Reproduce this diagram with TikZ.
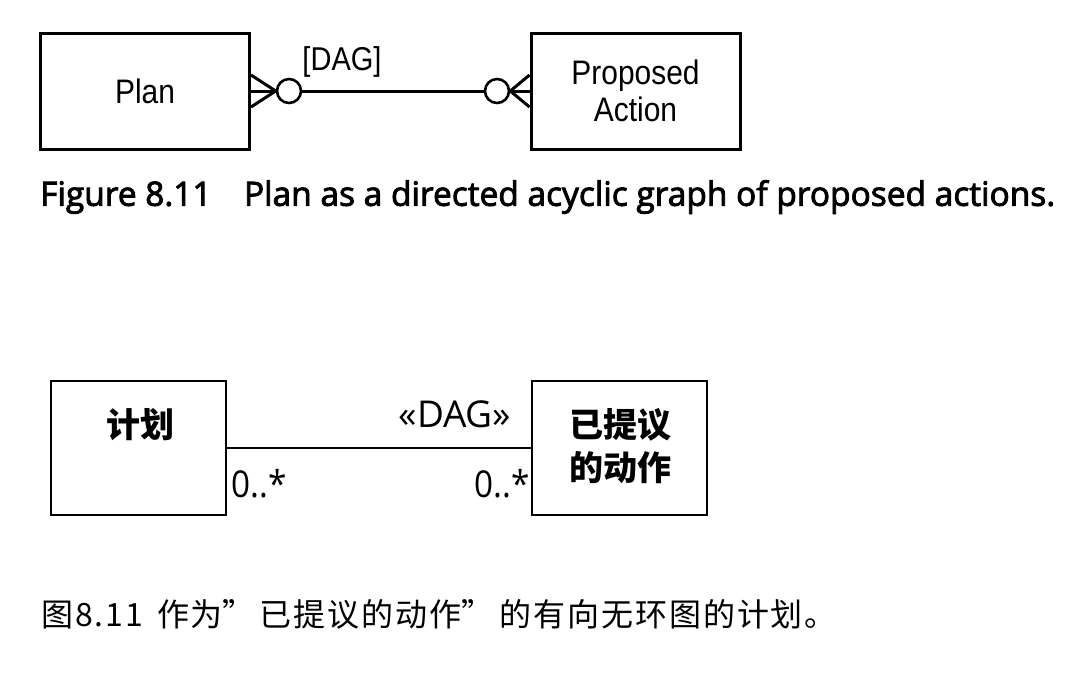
\documentclass[tikz,border=0pt]{standalone}
\usepackage{fontspec}
\setmainfont{Liberation Sans}
\newfontfamily\cjk{Noto Sans CJK SC}
\newfontfamily\cjkcap{Noto Sans CJK SC}[LetterSpace=6]
\newfontfamily\umlfont{Open Sans}
\newfontfamily\capfont{Open Sans}[FakeBold=2.6]
\newcommand{\narrowtext}[1]{\scalebox{0.88}[1]{#1}}
\newcommand{\fwq}[1]{\makebox[#1][l]{”}}
\begin{document}
\begin{tikzpicture}[x=1pt,y=-1pt,
  topbox/.style={draw, line width=3pt, minimum width=209pt, minimum height=116pt, inner sep=0pt, align=center, font=\fontsize{34}{37}\selectfont},
  botbox/.style={draw, line width=2pt, minimum width=175pt, minimum height=134pt, inner sep=0pt},
  ring/.style={circle, draw, line width=2.6pt, fill=white, minimum size=24pt, inner sep=0pt},
  thick line/.style={line width=3pt},
  cjklabel/.style={font=\cjk\bfseries\fontsize{34}{43}\selectfont, align=center, inner sep=0pt},
  uml/.style={font=\umlfont\fontsize{37}{40}\selectfont, inner sep=0pt}
]
\useasboundingbox (0,0) rectangle (1080,675);
% top diagram
\node[topbox] (plan) at (145,91) {\narrowtext{Plan}};
\node[topbox] (pa) at (635.5,91) {\narrowtext{Proposed}\\\narrowtext{Action}};
\node[ring] (c1) at (289,91) {};
\node[ring] (c2) at (497,91) {};
\draw[thick line] (plan.east) -- (c1.west);
\draw[thick line] (c1.east) -- (c2.west);
\draw[thick line] (c2.east) -- (pa.west);
\draw[thick line] ([yshift=16pt]plan.east) -- (c1.west) -- ([yshift=-16pt]plan.east);
\draw[thick line] ([yshift=16pt]pa.west) -- (c2.east) -- ([yshift=-16pt]pa.west);
\node[font=\fontsize{33}{36}\selectfont, inner sep=0pt] (dag1) at (342,62) {\narrowtext{[DAG]}};
\node[anchor=west, inner sep=0pt] (cap1) at (40,197) {\resizebox{1015pt}{!}{\capfont\fontsize{31}{34}\selectfont Figure 8.11\hspace{30pt}Plan as a directed acyclic graph of proposed actions.}};
% bottom diagram
\node[botbox] (plan2) at (138,448) {};
\node[botbox] (pa2) at (619.5,448) {};
\draw[line width=2pt] (plan2.east) -- (pa2.west);
\node[cjklabel] (l1) at (140,425) {计划};
\node[cjklabel] (l2) at (620,446) {已提议\\的动作};
\node[uml] (dag2) at (455,414) {«DAG»};
\node[uml] (m1) at (259,484) {\scalebox{0.9}[1]{0..*}};
\node[uml] (m2) at (502,484) {\scalebox{0.9}[1]{0..*}};
\node[anchor=west, inner sep=0pt, font=\cjkcap\fontsize{32}{34}\selectfont] (cap2) at (41,614) {图8.11\hspace{14pt}作为\fwq{37pt}已提议的动作\fwq{38pt}的有向无环图的计划。};
\end{tikzpicture}
\end{document}
